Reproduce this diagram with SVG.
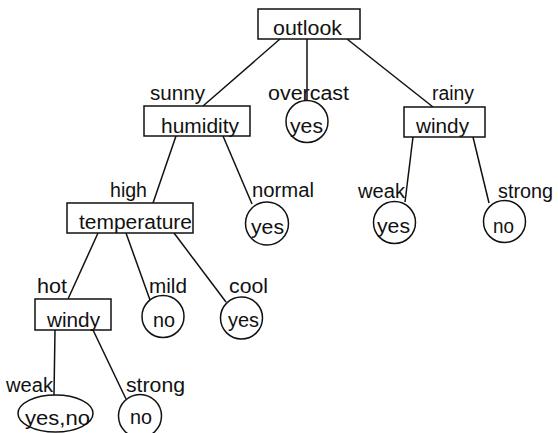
<svg xmlns="http://www.w3.org/2000/svg" width="558" height="433" viewBox="0 0 558 433">
<style>
.node { fill: #fff; stroke: #111; stroke-width: 1.5; }
line { stroke: #111; stroke-width: 1.5; }
text { font-family: "Liberation Sans", Arial, sans-serif; font-size: 20px; fill: #111; }
</style>
<rect width="558" height="433" fill="#fff"/>
<g id="connectors">
<line x1="280" y1="39" x2="203" y2="106"/>
<line x1="307" y1="39" x2="307" y2="100"/>
<line x1="347" y1="39" x2="433" y2="107"/>
<line x1="176" y1="136" x2="153" y2="203"/>
<line x1="223" y1="136" x2="252" y2="204"/>
<line x1="413" y1="137" x2="405" y2="202"/>
<line x1="473" y1="137" x2="489" y2="203"/>
<line x1="98" y1="233" x2="68" y2="299"/>
<line x1="126" y1="233" x2="150" y2="300"/>
<line x1="174" y1="233" x2="226" y2="302"/>
<line x1="55" y1="330" x2="54" y2="395"/>
<line x1="93" y1="330" x2="126" y2="399"/>
</g>
<g id="labels">
<text x="150" y="100" textLength="55" lengthAdjust="spacingAndGlyphs">sunny</text>
<text x="268" y="100" textLength="81" lengthAdjust="spacingAndGlyphs">overcast</text>
<text x="432" y="100" textLength="42" lengthAdjust="spacingAndGlyphs">rainy</text>
<text x="110" y="197" textLength="37" lengthAdjust="spacingAndGlyphs">high</text>
<text x="252" y="197" textLength="62" lengthAdjust="spacingAndGlyphs">normal</text>
<text x="358" y="198" textLength="47" lengthAdjust="spacingAndGlyphs">weak</text>
<text x="498" y="198" textLength="55" lengthAdjust="spacingAndGlyphs">strong</text>
<text x="37" y="293" textLength="30" lengthAdjust="spacingAndGlyphs">hot</text>
<text x="149" y="293" textLength="38" lengthAdjust="spacingAndGlyphs">mild</text>
<text x="229" y="293" textLength="39" lengthAdjust="spacingAndGlyphs">cool</text>
<text x="6" y="392" textLength="47" lengthAdjust="spacingAndGlyphs">weak</text>
<text x="126" y="392" textLength="59" lengthAdjust="spacingAndGlyphs">strong</text>
</g>
<g id="outlook">
<rect class="node" x="258" y="9" width="102" height="30"/>
<text x="273" y="35" textLength="69" lengthAdjust="spacingAndGlyphs">outlook</text>
</g>
<g id="humidity">
<rect class="node" x="144" y="106" width="106" height="30"/>
<text x="161" y="133" textLength="78" lengthAdjust="spacingAndGlyphs">humidity</text>
</g>
<g id="overcast-yes">
<circle class="node" cx="307" cy="121.5" r="21"/>
<text x="290" y="133" textLength="33" lengthAdjust="spacingAndGlyphs">yes</text>
</g>
<g id="windy-right">
<rect class="node" x="404" y="107" width="81" height="30"/>
<text x="416" y="133" textLength="53" lengthAdjust="spacingAndGlyphs">windy</text>
</g>
<g id="temperature">
<rect class="node" x="67" y="203" width="126" height="30"/>
<text x="79" y="229" textLength="113" lengthAdjust="spacingAndGlyphs">temperature</text>
</g>
<g id="normal-yes">
<circle class="node" cx="267" cy="223.5" r="21.5"/>
<text x="251" y="234" textLength="33" lengthAdjust="spacingAndGlyphs">yes</text>
</g>
<g id="rainy-weak-yes">
<circle class="node" cx="394.5" cy="222.5" r="21"/>
<text x="377" y="233" textLength="33" lengthAdjust="spacingAndGlyphs">yes</text>
</g>
<g id="rainy-strong-no">
<circle class="node" cx="504.5" cy="221.5" r="21"/>
<text x="493" y="233" textLength="21" lengthAdjust="spacingAndGlyphs">no</text>
</g>
<g id="windy-left">
<rect class="node" x="35" y="299" width="76" height="31"/>
<text x="47" y="327" textLength="53" lengthAdjust="spacingAndGlyphs">windy</text>
</g>
<g id="mild-no">
<circle class="node" cx="163" cy="316.5" r="21"/>
<text x="153" y="327" textLength="22" lengthAdjust="spacingAndGlyphs">no</text>
</g>
<g id="cool-yes">
<circle class="node" cx="241.5" cy="318" r="21"/>
<text x="228" y="327" textLength="31" lengthAdjust="spacingAndGlyphs">yes</text>
</g>
<g id="weak-yesno">
<ellipse class="node" cx="55.5" cy="413.5" rx="37.5" ry="18.5"/>
<text x="25" y="425" textLength="65" lengthAdjust="spacingAndGlyphs">yes,no</text>
</g>
<g id="strong-no">
<circle class="node" cx="140" cy="416" r="21.5"/>
<text x="130" y="424" textLength="22" lengthAdjust="spacingAndGlyphs">no</text>
</g>
</svg>
